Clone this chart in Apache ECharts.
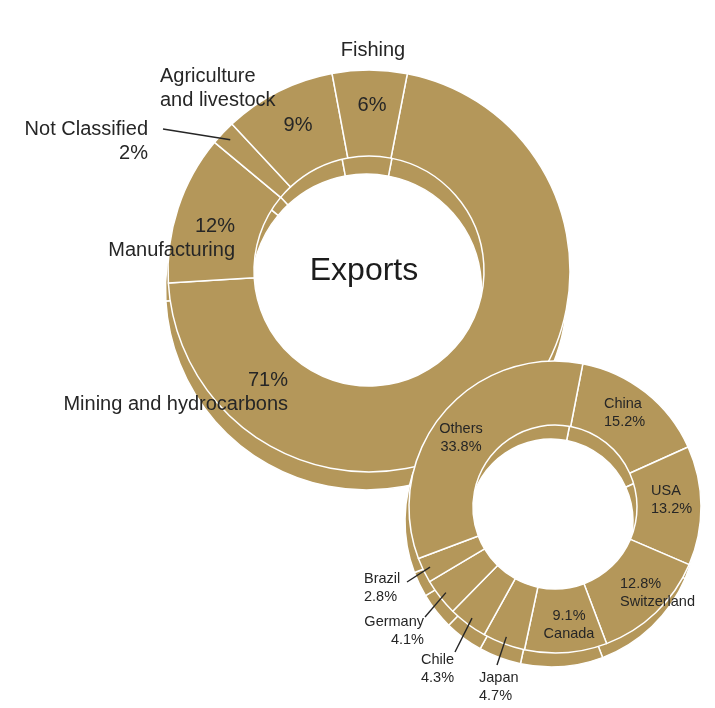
<!DOCTYPE html>
<html>
<head>
<meta charset="utf-8">
<script src="https://cdn.jsdelivr.net/npm/echarts@6/dist/echarts.min.js"></script>
<style>
  html, body { margin: 0; padding: 0; background: #fff; }
  #chart { width: 715px; height: 708px; }
</style>
</head>
<body>
<div id="chart"></div>
<script>
// Exports by sector, share of total (%)
const sectorNames = ['Mining and hydrocarbons', 'Manufacturing', 'Not Classified', 'Agriculture and livestock', 'Fishing'];
const sectorShares = [71, 12, 2, 9, 6];

// Exports by destination, share of total (%)
const partnerNames = ['China', 'USA', 'Switzerland', 'Canada', 'Japan', 'Chile', 'Germany', 'Brazil', 'Others'];
const partnerShares = [15.2, 13.2, 12.8, 9.1, 4.7, 4.3, 4.1, 2.8, 33.8];

const centreTitle = 'Exports';

// ---------- styling and layout ----------
const GOLD = '#b4975a';
const INK = '#262626';
const FONT = '"Liberation Sans", Arial, Helvetica, sans-serif';
const START = 79;              // first slice begins just right of 12 o'clock

// each ring: centre, [inner, outer] radius, and the offset of its extruded base
const bigRing = { c: [369, 271], r: [115, 201], depth: [-2.5, 18] };
const smallRing = { c: [555, 507], r: [82, 146], depth: [-4, 14] };

// label anchors; order: 'pn' percent over name, 'np' name over percent, 'p' percent only
const sectorSpots = [
  { at: [288, 392], align: 'right', order: 'pn' },
  { at: [235, 238], align: 'right', order: 'pn' },
  { at: [148, 141], align: 'right', order: 'np', lead: [163, 129] },
  { at: [298, 125], align: 'center', order: 'p' },
  { at: [372, 105], align: 'center', order: 'p' }
];
const sectorNameSpots = [null, null, null,
  { at: [160, 88], align: 'left' },
  { at: [373, 50], align: 'center' }
];
const partnerSpots = [
  { at: [604, 413], align: 'left', order: 'np' },
  { at: [651, 500], align: 'left', order: 'np' },
  { at: [620, 593], align: 'left', order: 'pn' },
  { at: [569, 625], align: 'center', order: 'pn' },
  { at: [479, 687], align: 'left', order: 'np', lead: [497, 665] },
  { at: [421, 669], align: 'left', order: 'np', lead: [455, 652] },
  { at: [424, 631], align: 'right', order: 'np', lead: [425, 617] },
  { at: [364, 588], align: 'left', order: 'np', lead: [407, 582] },
  { at: [461, 438], align: 'center', order: 'np' }
];

// point inside slice i, on its bisector, at a fraction of the outer radius
function slicePoint(values, i, ring, frac) {
  const total = values.reduce((a, b) => a + b, 0);
  let before = 0;
  for (let k = 0; k < i; k++) before += values[k];
  const mid = before + values[i] / 2;
  const ang = (START - 360 * mid / total) * Math.PI / 180;
  const rr = ring.r[1] * frac;
  return [ring.c[0] + rr * Math.cos(ang), ring.c[1] - rr * Math.sin(ang)];
}

function labelText(name, pct, order) {
  if (order === 'p') return pct;
  return order === 'pn' ? pct + '\n' + name : name + '\n' + pct;
}

function baseRing(ring, data, shift, z) {
  return {
    type: 'pie',
    z: z,
    silent: true,
    animation: false,
    avoidLabelOverlap: false,
    center: [ring.c[0] + shift[0], ring.c[1] + shift[1]],
    radius: ring.r,
    startAngle: START,
    clockwise: true,
    emphasis: { disabled: true },
    itemStyle: { color: GOLD, borderColor: '#fff', borderWidth: 1.5 },
    label: { show: false },
    labelLine: { show: false },
    data: data
  };
}

// transparent copy of a ring that only carries text and leader lines, drawn above everything
function labelRing(ring, data, z, labelStyle, spots, values) {
  return Object.assign(baseRing(ring, data, [0, 0], z), {
    itemStyle: { color: 'rgba(0,0,0,0)', borderWidth: 0 },
    label: labelStyle,
    labelLine: { show: true, length: 6, length2: 6, lineStyle: { color: INK, width: 1.4 } },
    labelLayout: function (params) {
      const s = spots[params.dataIndex];
      if (!s) return {};
      const out = { x: s.at[0], y: s.at[1], align: s.align, verticalAlign: 'middle' };
      if (s.lead) {
        out.labelLinePoints = [s.lead, slicePoint(values, params.dataIndex, ring, 0.95)];
      }
      return out;
    }
  });
}

const plainSectors = sectorNames.map((n, i) => ({ name: n, value: sectorShares[i] }));
const plainPartners = partnerNames.map((n, i) => ({ name: n, value: partnerShares[i] }));

const sectorText = sectorNames.map((n, i) => ({
  name: n,
  value: sectorShares[i],
  label: { formatter: labelText(n, sectorShares[i] + '%', sectorSpots[i].order) },
  labelLine: { show: !!sectorSpots[i].lead }
}));
const sectorNameText = sectorNames.map((n, i) => ({
  name: n,
  value: sectorShares[i],
  label: { show: !!sectorNameSpots[i], formatter: n },
  labelLine: { show: false }
}));
const partnerText = partnerNames.map((n, i) => ({
  name: n,
  value: partnerShares[i],
  label: { formatter: labelText(n, partnerShares[i].toFixed(1) + '%', partnerSpots[i].order) },
  labelLine: { show: !!partnerSpots[i].lead }
}));

const bigLabelStyle = { show: true, position: 'outside', color: INK, fontFamily: FONT, fontSize: 20, lineHeight: 24 };
const smallLabelStyle = { show: true, position: 'outside', color: INK, fontFamily: FONT, fontSize: 14.5, lineHeight: 17.5 };

const series = [
  baseRing(bigRing, plainSectors, bigRing.depth, 1),
  baseRing(bigRing, plainSectors, [0, 0], 2),
  baseRing(smallRing, plainPartners, smallRing.depth, 3),
  baseRing(smallRing, plainPartners, [0, 0], 4),
  labelRing(bigRing, sectorText, 6, bigLabelStyle, sectorSpots, sectorShares),
  labelRing(bigRing, sectorNameText, 6,
    Object.assign({}, bigLabelStyle, { width: 125, overflow: 'break' }), sectorNameSpots, sectorShares),
  labelRing(smallRing, partnerText, 7, smallLabelStyle, partnerSpots, partnerShares)
];

const chart = echarts.init(document.getElementById('chart'), null, { renderer: 'canvas' });
chart.setOption({
  animation: false,
  backgroundColor: '#fff',
  graphic: [{
    type: 'text',
    x: 364,
    y: 271,
    z: 10,
    silent: true,
    style: {
      text: centreTitle,
      fill: '#1c1c1c',
      fontFamily: FONT,
      fontSize: 32,
      align: 'center',
      verticalAlign: 'middle',
      textAlign: 'center',
      textVerticalAlign: 'middle'
    }
  }],
  series: series
});
</script>
</body>
</html>
